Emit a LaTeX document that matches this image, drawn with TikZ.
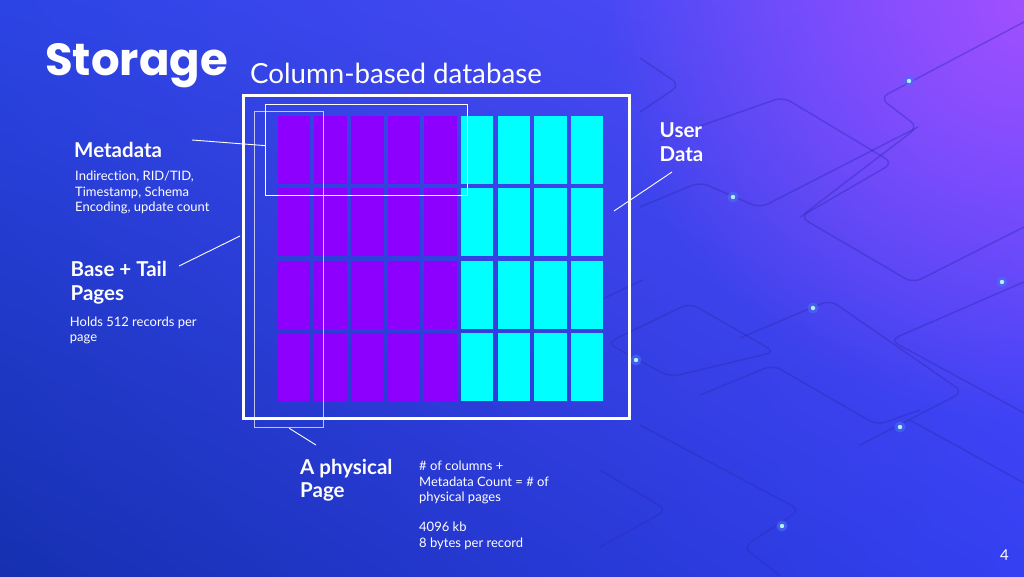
\documentclass[tikz,border=0pt]{standalone}
\usepackage{fontspec}
\setmainfont{Lato}[Ligatures={NoCommon}]
\newfontfamily\titlefont{Poppins}
\usetikzlibrary{fadings,shadings}
\definecolor{bgTL}{HTML}{2C44E4}
\definecolor{bgBL}{HTML}{1630B0}
\definecolor{bgTR}{HTML}{5A4CFF}
\definecolor{bgBR}{HTML}{3440F2}
\definecolor{glowc}{HTML}{A850FF}
\definecolor{metac}{HTML}{8E00FE}
\definecolor{userc}{HTML}{00FFFF}
\definecolor{circc}{HTML}{2E2AB4}
\definecolor{dotc}{HTML}{B0F0FF}
\definecolor{dotglow}{HTML}{4A70F0}
\tikzfading[name=glowfade, inner color=transparent!0, outer color=transparent!100]
\tikzset{
  circuit/.style={draw=circc, line width=1.5pt, opacity=0.4, rounded corners=9pt},
  title/.style={anchor=base west, inner sep=0, text=white, font=\titlefont\bfseries\fontsize{45}{50}\selectfont},
  subtitle/.style={anchor=base west, inner sep=0, text=white, font=\fontsize{27.7}{32}\selectfont},
  heading/.style={anchor=base west, inner sep=0, text=white, align=left, font=\bfseries\fontsize{20.5}{23.5}\selectfont},
  desc/.style={anchor=base west, inner sep=0, text=white, align=left, font=\fontsize{13}{15.3}\selectfont},
  pagenum/.style={anchor=base west, inner sep=0, text=white, font=\fontsize{15}{18}\selectfont},
  frame/.style={draw=white, line width=3pt, inner sep=0, anchor=north west},
  metarect/.style={draw=white, line width=1.2pt, inner sep=0, anchor=north west},
  pagerect/.style={draw=white, draw opacity=0.7, line width=1.2pt, inner sep=0, anchor=north west},
  leader/.style={draw=white, line width=0.9pt},
}
\begin{document}
\begin{tikzpicture}[x=1pt,y=-1pt]
\useasboundingbox (0,0) rectangle (1024,576);
% background
\shade[upper left=bgTL, upper right=bgTR, lower left=bgBL, lower right=bgBR] (0,0) rectangle (1024,576);
\fill[glowc, path fading=glowfade, fill opacity=0.9] (1024,0) circle [radius=420];
% decorative circuit lines
\draw[circuit] (1024,22) -- (880,98) -- (918,127) -- (800,217) -- (913,283) -- (1024,227);
\draw[circuit] (640,58) -- (680,85) -- (640,112);
\draw[circuit] (640,207) -- (700,182) -- (760,208) -- (918,127);
\draw[circuit] (660,140) -- (783,97) -- (893,163) -- (800,217);
\draw[circuit] (1024,282) -- (890,340) -- (1024,413);
\draw[circuit] (607,343) -- (690,303) -- (775,352) -- (670,377) -- cycle;
\draw[circuit] (740,338) -- (830,300) -- (963,392) -- (860,445);
\draw[circuit] (700,395) -- (773,365) -- (877,425) -- (920,410);
\draw[circuit] (640,425) -- (800,510) -- (743,547) -- (780,576);
\draw[circuit] (600,470) -- (667,510) -- (600,547);
\draw[circuit] (910,420) -- (1024,483);
\draw[circuit] (600,300) -- (643,280);
\foreach \p in {(909,81),(733,197),(1002,282),(813,308),(636,360),(900,427),(782,526)}{
  \fill[dotglow, opacity=0.6] \p circle [radius=5.5];
  \fill[dotc] \p circle [radius=2.2];
}
% grid of pages
\foreach \i in {0,...,8}{
  \foreach \j in {0,...,3}{
    \ifnum\i<5 \def\cc{metac}\else\def\cc{userc}\fi
    \fill[\cc] ({277.7+36.65*\i},{115.7+72.4*\j}) rectangle +(32.5,68);
  }
}
% frames
\node[frame, minimum width=386pt, minimum height=323pt] (outer) at (242,94) {};
\node[metarect, minimum width=202pt, minimum height=91pt] (metabox) at (265,104) {};
\node[pagerect, minimum width=69pt, minimum height=316pt] (physpage) at (254,111) {};
% texts (multi-line nodes: base = baseline of last line)
\node[title] (ttl) at (45,75) {Storage};
\node[subtitle] (sub) at (250,83) {Column-based database};
\node[heading] (metalbl) at (74,157.5) {Metadata};
\node[desc] (metadesc) at (75,211.3) {Indirection, RID/TID,\\Timestamp, Schema\\Encoding, update count};
\node[heading] (baselbl) at (70.5,300.2) {Base + Tail\\Pages};
\node[desc] (basedesc) at (69.7,341.3) {Holds 512 records per\\page};
\node[heading] (physlbl) at (300,497.8) {A physical\\Page};
\node[desc] (physdesc) at (419,547.2) {\# of columns +\\Metadata Count = \# of\\physical pages\\[15.3pt]4096 kb\\8 bytes per record};
\node[heading] (userlbl) at (659.5,161.2) {User\\Data};
\node[pagenum] (pnum) at (1000,560) {4};
% leader lines
\coordinate (metaA) at (192,140);
\coordinate (baseA) at (179,266);
\coordinate (baseB) at (240,236);
\coordinate (userA) at (672,172);
\coordinate (userB) at (614,211);
\coordinate (physA) at (316,445);
\draw[leader] (metaA) -- ([yshift=4.5pt]metabox.west);
\draw[leader] (baseA) -- (baseB);
\draw[leader] (userA) -- (userB);
\draw[leader] (physpage.south) -- (physA);
\end{tikzpicture}
\end{document}
